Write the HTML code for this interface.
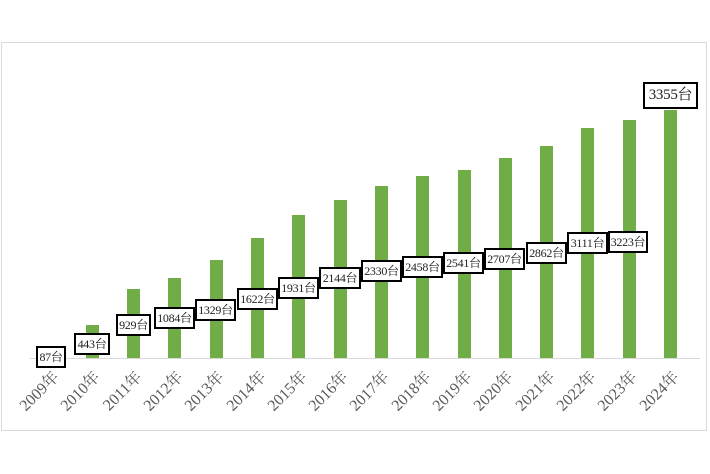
<!DOCTYPE html>
<html><head><meta charset="utf-8"><style>
body{margin:0;width:710px;height:474px;background:#fff;position:relative;overflow:hidden;font-family:"Liberation Serif","Noto Serif CJK SC",serif}
.frame{position:absolute;left:1px;top:42px;width:706px;height:389px;border:1px solid #d9d9d9;box-sizing:border-box}
.bar{position:absolute;width:13px;background:#70ad47}
.lab{position:absolute;height:22px;border:2px solid #000;background:#fff;box-sizing:border-box;font-size:12px;line-height:18px;text-align:center;color:#222;white-space:nowrap;letter-spacing:-0.3px}
.yr{position:absolute;font-size:16px;color:#595959;white-space:nowrap;transform-origin:100% 50%;transform:rotate(-45deg);text-align:right;width:70px;line-height:16px}
.base{position:absolute;left:30px;top:358px;width:670px;height:1px;background:#d9d9d9}
</style></head><body>
<div class="frame"></div>
<div class="base"></div>
<div id="c"></div>
<script>
var v=[87,443,929,1084,1329,1622,1931,2144,2330,2458,2541,2707,2862,3111,3223,3355];
var L=[[36,346,30],[74,333,36],[116,314,35],[154,307,41],[195,299,41],[237,288,41],[278,277,41],[319,267,42],[361,260,41],[402,256,41],[443,252,41],[484,248,41],[526,242,41],[567,232,41],[608,231,40],[643,82,55]];
var h='';
for(var i=0;i<16;i++){
 var cx=51+i*41.3, ht=v[i]*248/3355;
 h+='<div class="bar" style="left:'+(cx-6.5)+'px;top:'+(358-ht)+'px;height:'+ht+'px"></div>';
}
for(var i=0;i<16;i++){
 var cx=51+i*41.3;
 var l=L[i];
 h+='<div class="lab" style="left:'+l[0]+'px;top:'+l[1]+'px;width:'+l[2]+'px;'+(i==15?'height:27px;font-size:15px;line-height:23px;':'')+'">'+v[i]+'台</div>';
 h+='<div class="yr" style="left:'+(cx-64)+'px;top:367px">'+(2009+i)+'年</div>';
}
document.getElementById('c').innerHTML=h;
</script>
</body></html>
